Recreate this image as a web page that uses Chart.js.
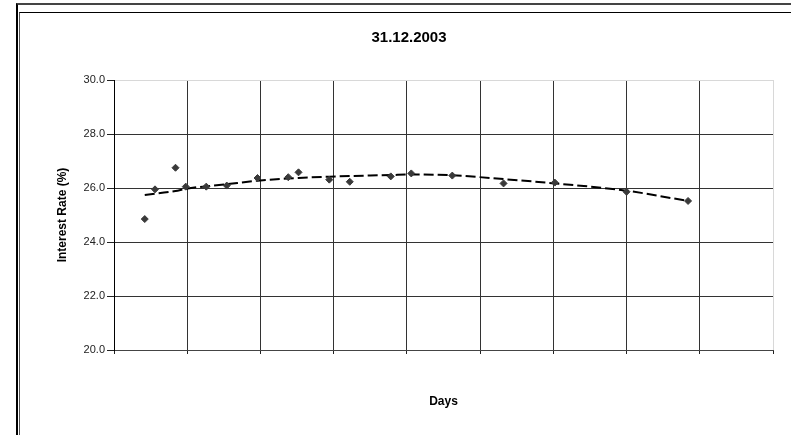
<!DOCTYPE html>
<html>
<head>
<meta charset="utf-8">
<script src="https://cdn.jsdelivr.net/npm/chart.js@4/dist/chart.umd.min.js"></script>
<style>
  body { margin: 0; background: #fff; overflow: hidden; }
  #wrap { position: relative; width: 791px; height: 435px; }
  #myChart { position: absolute; left: 0; top: 0; }
  .frame { position: absolute; pointer-events: none; right: -20px; bottom: -20px; }
  #outer { left: 16px; top: 3px; border-left: 2px solid #000; border-top: 2px solid #444; }
  #inner { left: 19px; top: 12px; border-left: 1px solid #555; border-top: 1px solid #000; }
</style>
</head>
<body>
<div id="wrap">
  <canvas id="myChart" width="791" height="435"></canvas>
  <div class="frame" id="outer"></div>
  <div class="frame" id="inner"></div>
</div>
<script>
// Data
const days = [42, 56, 84, 98, 126, 154, 196, 238, 252, 294, 322, 378, 406, 462, 532, 602, 700, 784];
const rates = [24.85, 25.95, 26.75, 26.05, 26.05, 26.09, 26.37, 26.40, 26.58, 26.31, 26.23, 26.43, 26.54, 26.46, 26.17, 26.20, 25.86, 25.52];

// Garis tren
const trendDays = [42, 84, 98, 154, 196, 252, 294, 378, 406, 462, 532, 602, 700, 784];
const trendRates = [25.74, 25.89, 25.97, 26.14, 26.27, 26.37, 26.42, 26.48, 26.50, 26.47, 26.33, 26.17, 25.90, 25.52];

const yTicks = [20, 22, 24, 26, 28, 30];

const points = days.map((d, i) => ({ x: d, y: rates[i] }));
const trend = trendDays.map((d, i) => ({ x: d, y: trendRates[i] }));

const ctx = document.getElementById('myChart').getContext('2d');
const myChart = new Chart(ctx, {
    type: 'scatter',
    data: {
        datasets: [{
            data: points,
            pointStyle: 'rectRot',
            pointRadius: 3.5,
            backgroundColor: '#3a3a3a',
            borderColor: '#3a3a3a',
            borderWidth: 1
        }, {
            data: trend,
            showLine: true,
            pointRadius: 0,
            borderColor: '#000',
            borderWidth: 2,
            borderDash: [10, 4],
            cubicInterpolationMode: 'monotone'
        }]
    },
    options: {
        responsive: false,
        animation: false,
        layout: { padding: { left: 45, right: 18, top: 0, bottom: 0 } },
        plugins: {
            legend: { display: false },
            tooltip: { enabled: false },
            title: {
                display: true,
                text: '31.12.2003',
                color: '#000',
                font: { family: 'Liberation Sans, Arial', size: 15, weight: 'bold' },
                padding: { top: 29, bottom: 33 }
            }
        },
        scales: {
            x: {
                type: 'linear',
                min: 0,
                max: 900,
                ticks: { display: false, stepSize: 100 },
                grid: {
                    color: (c) => c.tick && c.tick.value === 900 ? '#d8d8d8' : '#333',
                    tickColor: '#222',
                    tickLength: 4
                },
                border: { color: '#444' },
                title: {
                    display: true,
                    text: 'Days',
                    color: '#000',
                    font: { family: 'Liberation Sans, Arial', size: 12, weight: 'bold' },
                    padding: { top: 0, bottom: 26 }
                },
                afterFit: (scale) => { scale.height = 85; }
            },
            y: {
                min: 20,
                max: 30,
                afterBuildTicks: (scale) => { scale.ticks = yTicks.map(v => ({ value: v })); },
                ticks: {
                    color: '#222',
                    padding: 2,
                    font: { family: 'Liberation Sans, Arial', size: 11 },
                    callback: (v) => v.toFixed(1)
                },
                grid: {
                    color: (c) => c.tick && c.tick.value === 30 ? '#d8d8d8' : '#333',
                    tickColor: '#222',
                    tickLength: 7
                },
                border: { color: '#000' },
                title: {
                    display: true,
                    text: 'Interest Rate (%)',
                    color: '#000',
                    font: { family: 'Liberation Sans, Arial', size: 12, weight: 'bold' },
                    padding: { top: 10, bottom: 0 }
                },
                afterFit: (scale) => { scale.width = 69; }
            }
        }
    }
});
</script>
</body>
</html>
